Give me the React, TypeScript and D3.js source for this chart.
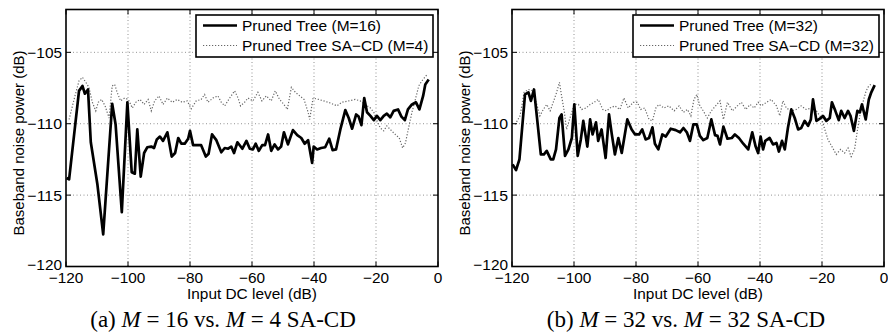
import React, { useLayoutEffect, useRef, useState } from "react";
import * as d3 from "d3";

const xTicks = [-120, -100, -80, -60, -40, -20, 0];
const yTicks = [-120, -115, -110, -105];

// Panel (a) — Pruned Tree (M=16)
const aSolidX = [-119.8,-119,-115.8,-114.7,-113.9,-112.9,-112,-109.9,-108,-105.1,-104,-102,-100.2,-98.8,-97.8,-97,-95.9,-94.8,-93.8,-92.5,-91.6,-90.7,-89.7,-88.7,-87.3,-85.9,-84.8,-83.8,-82.8,-81.7,-80.6,-80,-79,-76.4,-74.9,-74,-72.9,-71.5,-69.9,-68.8,-67.7,-66.7,-65.8,-64.7,-63.1,-61.8,-60.7,-59.7,-58.8,-57.8,-56.7,-55.8,-54.8,-53.8,-52.7,-51.6,-50.6,-49.7,-48.4,-46.8,-45.4,-44.1,-43,-41.9,-40.6,-40.1,-39,-37.7,-36.4,-35.1,-34,-32.9,-31.5,-29.9,-28.8,-27.7,-26.4,-25.6,-24.7,-23.8,-22.9,-21.8,-20.7,-19.7,-18.6,-17.5,-16.5,-15.4,-14.3,-12.9,-11.8,-10.7,-9.7,-8.4,-7.1,-6,-4.8,-4.1,-3];
const aSolidY = [-113.8,-113.9,-107.7,-107.35,-107.9,-107.6,-111.3,-114.2,-117.75,-108.6,-110.05,-116.2,-108.5,-113.4,-113.5,-110.4,-113.7,-112.05,-111.65,-111.6,-111.7,-111.1,-110.9,-111.2,-110.6,-112.3,-112.05,-111,-111.4,-111.4,-111.05,-110.5,-111.5,-111.5,-112.3,-112.1,-110.75,-111.15,-112,-111.7,-111.75,-111.6,-112.05,-111.3,-111.75,-111.2,-111.75,-111.8,-111.4,-111.9,-111.5,-111.5,-110.75,-111.9,-111.45,-111.8,-111.6,-110.6,-111.45,-110.45,-110.8,-111,-111.4,-111.15,-112.75,-111.6,-111.8,-111.7,-111.65,-111.05,-111.85,-111.8,-110.4,-109.05,-109.6,-110.35,-109.35,-109.5,-110.1,-108.2,-109.2,-109.45,-109.75,-109.45,-109.75,-109.45,-109.3,-109.55,-109.1,-109,-109.5,-109.75,-109,-108.65,-108.5,-109,-108.05,-107.25,-106.9];

// Panel (a) — Pruned Tree SA-CD (M=4)
const aDotX = [-119,-117.4,-115.8,-114.7,-113.6,-112.6,-111.5,-110.4,-109.6,-108.5,-107.4,-106.1,-105.1,-104.3,-103.5,-102.4,-101.1,-99.9,-98.6,-97.5,-96.1,-94.8,-93.5,-92.5,-91.4,-90,-88.7,-87.3,-85.7,-84.1,-82.5,-80.9,-79.6,-78,-76.4,-75.3,-74.2,-72.6,-71,-69.9,-68.8,-67.2,-65.6,-64.5,-63.7,-62.4,-61.3,-59.7,-58.1,-56.8,-55.4,-53.8,-52.5,-51.1,-49.7,-48.6,-47.3,-46,-44.6,-43.2,-41.9,-41.4,-40.3,-38.5,-36.9,-34.7,-32.6,-31,-28.8,-26.7,-25.1,-23.5,-21.8,-20.7,-19.7,-18.6,-17.5,-16.5,-15.4,-13.8,-12.5,-11.4,-10.5,-9.5,-8.4,-7.3,-6.2,-5.2,-3.5];
const aDotY = [-109.7,-108.3,-107,-106.75,-107.1,-107.45,-108.5,-109.1,-108.5,-108.3,-108.75,-109.6,-107.35,-107.25,-107.8,-108.4,-108.2,-108.3,-108.9,-108.5,-108.3,-108.65,-108.3,-109.1,-108.4,-108.05,-108.65,-108.2,-108.5,-108.3,-108.5,-108.4,-108.95,-108.4,-108.3,-107.95,-108.5,-108.2,-108.05,-108.5,-108.75,-108.2,-107.7,-108.2,-108.75,-108.5,-108.2,-108.4,-107.8,-108.4,-108.05,-108.4,-107.7,-108.3,-108.65,-109,-107.45,-107.8,-108.05,-108.3,-109.2,-109.7,-108.2,-108.3,-108.4,-108.55,-108.75,-108.5,-108.4,-108.3,-108.4,-108.65,-108.9,-109.2,-109.8,-110.3,-110.5,-110.15,-110.4,-110.75,-111,-111.7,-111.35,-110.3,-109.2,-108.3,-107.35,-107,-106.55];

// Panel (b) — Pruned Tree (M=32)
const bSolidX = [-119.8,-118.7,-117.6,-115.8,-114.7,-113.9,-112.9,-112,-110.7,-109.7,-108.8,-107.5,-106.7,-105.8,-104.7,-104,-102.9,-101.8,-100.7,-99.9,-98.8,-97.8,-97,-95.7,-94.8,-94,-92.9,-92.2,-91.1,-89.8,-88.7,-87.8,-86.8,-85.7,-84.6,-82.8,-81.4,-80.3,-79,-78,-76.9,-75.8,-74.7,-73.9,-72.8,-71.5,-70.4,-68.8,-67.2,-65.8,-64.7,-63.6,-62.6,-61.5,-60.4,-59.4,-58.3,-57,-55.7,-54.5,-53.7,-52.9,-51.8,-50.5,-49.1,-48.1,-46.8,-45.4,-43.8,-42.5,-41.4,-40.6,-39.8,-39,-38.3,-36.9,-35.8,-34.7,-33.9,-32.9,-32,-31,-29.9,-28.8,-27.7,-26.7,-25.6,-24.5,-23.6,-22.9,-21.8,-20.7,-19.7,-18.6,-17.5,-16.8,-15.7,-14.6,-13.8,-12.7,-11.6,-10.8,-9.7,-8.6,-7.8,-7.1,-5.9,-4.9,-4.1,-3];
const bSolidY = [-112.85,-113.25,-112.5,-107.95,-107.8,-108.4,-107.6,-109.45,-112.15,-112.15,-111.9,-112.5,-112.5,-111.8,-109.6,-109.35,-112.25,-111.8,-111,-108.65,-112.25,-111.1,-109.8,-111.6,-109.7,-110.75,-109.9,-111.2,-110.4,-112.4,-109.35,-110.75,-112.15,-111,-112.05,-109.7,-110.4,-110.75,-110.75,-110.4,-111.1,-111,-110.25,-111.4,-111.8,-110.75,-110.9,-110.35,-110.45,-110.6,-110.3,-110.6,-111.2,-110.05,-110.05,-110.85,-111.15,-111,-109.7,-110.8,-110.85,-111.45,-110.2,-111.05,-111,-110.75,-111,-111.4,-111.8,-110.6,-111.6,-112.05,-110.9,-111.8,-111.2,-111,-111.45,-111.35,-111.95,-111.2,-111.8,-110.3,-109,-109.6,-110.4,-110.3,-109.8,-110.15,-109.7,-108.3,-109.8,-109.65,-109.45,-109.8,-109.6,-108.5,-109.1,-109.75,-109.1,-109.6,-109.1,-109.45,-110.5,-109.1,-109.2,-108.65,-109.7,-108.3,-107.8,-107.3];

// Panel (b) — Pruned Tree SA-CD (M=32)
const bDotX = [-119,-117.4,-116.1,-114.7,-113.3,-112,-111,-109.9,-108.8,-107.7,-106.7,-105.6,-104.7,-104,-103.1,-102.4,-101.3,-99.9,-98.6,-97.5,-96.1,-94.8,-93.5,-92.2,-90.7,-89.5,-88.4,-86.8,-85.2,-83.9,-82.5,-80.9,-79.6,-78.5,-77.2,-75.8,-74.7,-73.6,-72.6,-71,-69.4,-67.7,-66.1,-64.7,-63.4,-62.3,-61.3,-60.4,-59.4,-58.3,-57,-55.7,-54.3,-52.9,-51.8,-50.5,-48.9,-47.3,-46,-44.6,-43.2,-41.9,-40.6,-39.6,-37.9,-36.4,-34.7,-33.6,-32.6,-31.5,-29.9,-28.3,-26.7,-25.1,-23.4,-21.8,-20.2,-19.1,-18.1,-16.8,-15.4,-14,-12.7,-11.6,-10.6,-9.5,-8.6,-7.8,-6.8,-5.9,-5.2,-4.1];
const bDotY = [-110.05,-109.45,-107.8,-107.6,-107.7,-108.65,-109.45,-109,-108.65,-109.1,-108.5,-107.8,-107.1,-108.05,-109.2,-110.4,-109.6,-108.65,-108.65,-109,-108.9,-108.65,-108.5,-108.3,-109,-109.1,-108.9,-108.75,-109,-108.2,-108.9,-108.5,-108.5,-109,-108.9,-109.7,-109.8,-108.9,-108.65,-108.9,-108.75,-109.1,-108.75,-109.2,-109,-109.45,-108.3,-107.95,-108.75,-109.1,-109.6,-109.1,-108.75,-108.4,-109.7,-108.5,-109.1,-108.75,-108.5,-109,-108.65,-108.9,-108.5,-108.75,-108.5,-108.3,-108.75,-109.45,-108.4,-108.9,-109.1,-109,-108.75,-109,-108.9,-109.1,-109.6,-110.4,-111.1,-111.6,-112.15,-111.8,-112.05,-111.7,-112.3,-111.8,-110.5,-109.45,-108.5,-107.8,-107.45,-107.2];

const panelA = { left: 66, solidLabel: "Pruned Tree (M=16)", dotLabel: "Pruned Tree SA\u2212CD (M=4)", legendW: 237, capX: 223, capM1: "16", capM2: "4", capTag: "(a)" };
const panelB = { left: 512, solidLabel: "Pruned Tree (M=32)", dotLabel: "Pruned Tree SA\u2212CD (M=32)", legendW: 246, capX: 686, capM1: "32", capM2: "32", capTag: "(b)" };

const PW = 372;
const TOP = 9.5;
const BOTTOM = 266.5;
const SANS = "Liberation Sans, Arial, Helvetica, sans-serif";
const SERIF = "Liberation Serif, Times New Roman, serif";

// Helvetica advance widths (per em) — used only to know how wide each label is in the reference
const AW: Record<string, number> = {
  " ": 0.278, "(": 0.333, ")": 0.333, "=": 0.584, "\u2212": 0.584,
  A: 0.667, B: 0.667, C: 0.722, D: 0.722, I: 0.278, M: 0.833, P: 0.667, S: 0.667, T: 0.611,
  a: 0.556, b: 0.556, d: 0.556, e: 0.556, i: 0.222, l: 0.222, n: 0.556, o: 0.556, p: 0.556,
  r: 0.333, s: 0.5, t: 0.278, u: 0.556, v: 0.5, w: 0.722,
};
const EM = 15.4;
function tlen(s: string) {
  let w = 0;
  for (const c of s) w += AW[c] !== undefined ? AW[c] : 0.556;
  return w * EM;
}

function fmt(v: number) {
  return v < 0 ? "\u2212" + Math.abs(v) : String(v);
}

// Sans label whose rendered width is fitted to the reference width
function ST({ x, y, anchor = "start", rot = false, children }: any) {
  const ref = useRef<SVGTextElement>(null);
  const [s, setS] = useState(1);
  const target = tlen(String(children));
  useLayoutEffect(() => {
    const el = ref.current;
    if (!el) return;
    const w = el.getComputedTextLength();
    if (w > 0) setS(target / w);
  }, [target]);
  return (
    <g transform={`translate(${x},${y})${rot ? " rotate(-90)" : ""} scale(${s},1)`}>
      <text ref={ref} x={0} y={0} textAnchor={anchor} style={{ fontFamily: SANS, fontSize: "15px" }}>
        {children}
      </text>
    </g>
  );
}

function Panel({ cfg, sx, sy, dx, dy }: any) {
  const x = d3.scaleLinear().domain([-120, 0]).range([cfg.left, cfg.left + PW]);
  const y = d3.scaleLinear().domain([-120, -102]).range([BOTTOM, TOP]);
  const line = d3.line<[number, number]>().x((d) => x(d[0])).y((d) => y(d[1]));
  const solid = line(sx.map((v: number, i: number) => [v, sy[i]]));
  const dotted = line(dx.map((v: number, i: number) => [v, dy[i]]));
  const right = cfg.left + PW;
  const lgX = right - 5 - cfg.legendW;
  const lgY = 15;
  const tl = 5;
  return (
    <g>
      {xTicks.filter((t) => t > -120 && t < 0).map((t) => (
        <line key={"gx" + t} x1={x(t)} x2={x(t)} y1={TOP} y2={BOTTOM} stroke="#777" strokeWidth={0.8} strokeDasharray="1,2.5" />
      ))}
      {yTicks.filter((t) => t > -120).map((t) => (
        <line key={"gy" + t} x1={cfg.left} x2={right} y1={y(t)} y2={y(t)} stroke="#777" strokeWidth={0.8} strokeDasharray="1,2.5" />
      ))}
      <path d={dotted || ""} fill="none" stroke="#666" strokeWidth={1.2} strokeDasharray="1.2,1.8" />
      <path d={solid || ""} fill="none" stroke="#000" strokeWidth={2.7} strokeLinejoin="round" />
      {xTicks.map((t) => (
        <g key={"tx" + t}>
          <line x1={x(t)} x2={x(t)} y1={BOTTOM} y2={BOTTOM - tl} stroke="#000" strokeWidth={1} />
          <line x1={x(t)} x2={x(t)} y1={TOP} y2={TOP + tl} stroke="#000" strokeWidth={1} />
          <ST x={x(t)} y={283} anchor="middle">{fmt(t)}</ST>
        </g>
      ))}
      {yTicks.map((t) => (
        <g key={"ty" + t}>
          <line x1={cfg.left} x2={cfg.left + tl} y1={y(t)} y2={y(t)} stroke="#000" strokeWidth={1} />
          <line x1={right} x2={right - tl} y1={y(t)} y2={y(t)} stroke="#000" strokeWidth={1} />
          <ST x={cfg.left - 4} y={(t === -120 ? y(t) - 1.5 : y(t)) + 5.4} anchor="end">{fmt(t)}</ST>
        </g>
      ))}
      <rect x={cfg.left} y={TOP} width={PW} height={BOTTOM - TOP} fill="none" stroke="#000" strokeWidth={1.6} />
      <ST x={cfg.left + PW / 2} y={299} anchor="middle">Input DC level (dB)</ST>
      <g transform={`translate(${cfg.left - 42},${(TOP + BOTTOM) / 2 + 5}) rotate(-90)`}>
        <text x={0} y={0} textAnchor="middle" style={{ fontFamily: SANS, fontSize: "15px" }}>Baseband noise power (dB)</text>
      </g>
      <rect x={lgX} y={lgY} width={cfg.legendW} height={42} fill="#fff" stroke="#000" strokeWidth={1.6} />
      <line x1={lgX + 7} x2={lgX + 41} y1={lgY + 10.5} y2={lgY + 10.5} stroke="#000" strokeWidth={2.7} />
      <line x1={lgX + 7} x2={lgX + 41} y1={lgY + 30.5} y2={lgY + 30.5} stroke="#666" strokeWidth={1.2} strokeDasharray="1.2,1.8" />
      <ST x={lgX + 46} y={lgY + 16}>{cfg.solidLabel}</ST>
      <ST x={lgX + 46} y={lgY + 36}>{cfg.dotLabel}</ST>
      <text x={cfg.capX} y={327} textAnchor="middle" style={{ fontFamily: SERIF, fontSize: "23px" }}>
        {cfg.capTag + " "}
        <tspan fontStyle="italic">M</tspan>
        {" = " + cfg.capM1 + " vs. "}
        <tspan fontStyle="italic">M</tspan>
        {" = " + cfg.capM2 + " SA-CD"}
      </text>
    </g>
  );
}

export default function App() {
  return (
    <svg width={888} height={336} style={{ position: "absolute", left: 0, top: 0, background: "#fff" }}>
      <rect x={0} y={0} width={888} height={336} fill="#fff" />
      <Panel cfg={panelA} sx={aSolidX} sy={aSolidY} dx={aDotX} dy={aDotY} />
      <Panel cfg={panelB} sx={bSolidX} sy={bSolidY} dx={bDotX} dy={bDotY} />
    </svg>
  );
}
